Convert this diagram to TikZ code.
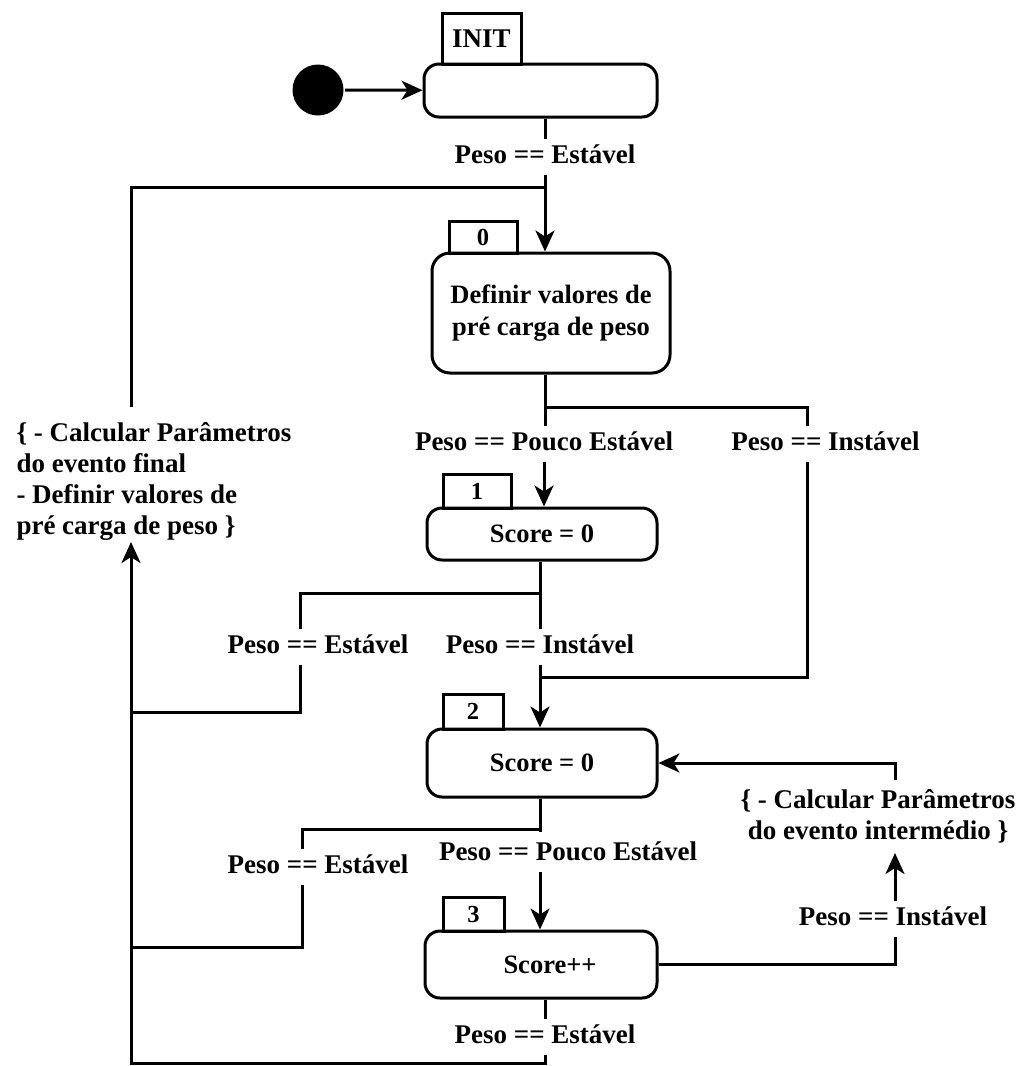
\documentclass[tikz,border=0pt]{standalone}
\usepackage{fontspec}
\setmainfont{Liberation Serif}
\usetikzlibrary{arrows.meta}
\begin{document}
\begin{tikzpicture}[x=1pt,y=-1pt,
  line width=3pt,
  arr/.style={-{Stealth[length=21pt,width=19pt,inset=6pt]}},
  lbl/.style={font=\bfseries\fontsize{27}{31}\selectfont, text height=19pt, text depth=6pt, inner xsep=1pt, inner ysep=4pt},
  statebox/.style={draw, rounded corners=15pt, font=\bfseries\fontsize{26.5}{32}\selectfont, inner sep=0pt, align=center},
  tagbox/.style={draw, inner sep=0pt, font=\bfseries\fontsize{24.5}{28}\selectfont},
  note/.style={font=\bfseries\fontsize{27}{31}\selectfont, inner sep=0pt}
]
\useasboundingbox (0,0) rectangle (1020,1066);

% helper coordinates
\coordinate (rx) at (807,0);
\coordinate (rx2) at (895,0);
\coordinate (lx1) at (300,0);
\coordinate (lx2) at (302,0);
\coordinate (jtop) at (545,187);
\coordinate (j1) at (545,407);
\coordinate (j2) at (542,593);
\coordinate (j3) at (542,677);
\coordinate (j4) at (540,829);
\coordinate (jL1) at (131,712);
\coordinate (jL2) at (131,947);
\coordinate (jB) at (131,1063);
\coordinate (finT) at (131,407);
\coordinate (finB) at (131,542);

% initial
\node[circle, fill=black, draw=none, minimum size=51pt, inner sep=0pt] (start) at (318,90) {};

% tags
\node[tagbox, minimum width=79pt, minimum height=51pt, font=\bfseries\fontsize{27}{30}\selectfont] (tagI) at (481.5,38.5) {INIT};
\node[tagbox, minimum width=68pt, minimum height=32pt] (tag0) at (483,237) {0};
\node[tagbox, minimum width=68pt, minimum height=34pt] (tag1) at (477,491) {1};
\node[tagbox, minimum width=60pt, minimum height=35pt] (tag2) at (473,711.5) {2};
\node[tagbox, minimum width=61pt, minimum height=34pt] (tag3) at (473.5,914) {3};

% states
\node[statebox, minimum width=233pt, minimum height=53pt] (init) at (540.5,90.5) {};
\node[statebox, minimum width=238pt, minimum height=120pt, rounded corners=18pt] (s0) at (551,313) {Definir valores de\\pré carga de peso};
\node[statebox, minimum width=230pt, minimum height=52pt] (s1) at (542,534) {Score = 0};
\node[statebox, minimum width=230pt, minimum height=68pt] (s2) at (542,763) {Score = 0};
\node[statebox, minimum width=232pt, minimum height=67pt] (s3) at (541,964.5) {\hspace*{18pt}Score++};

% labels
\node[lbl] (e1) at (545,156.5) {Peso == Estável};
\node[lbl] (e2) at (544,443.5) {Peso == Pouco Estável};
\node[lbl] (e3) at (825.5,443.5) {Peso == Instável};
\node[lbl] (e4) at (540,646.5) {Peso == Instável};
\node[lbl] (e5) at (318,646.5) {Peso == Estável};
\node[lbl] (e8) at (318,866.5) {Peso == Estável};
\node[lbl] (e9) at (568,853.5) {Peso == Pouco Estável};
\node[lbl] (e7) at (893,918.5) {Peso == Instável};
\node[lbl] (e10) at (545,1036.5) {Peso == Estável};
\node[note, align=center, anchor=south, inner ysep=8pt] (e6) at (878,853) {\{ - Calcular Parâmetros\\do evento intermédio \}};
\node[note, align=left, anchor=north west] (fin) at (15,421) {\{ - Calcular Parâmetros\\do evento final\\- Definir valores de\\pré carga de peso \}};

% connectors
\draw[arr] (start) -- (init);
\draw (init.south -| e1) -- (e1.north);
\draw[arr] (e1.south) -- (e1.south |- s0.north);
\draw (finT) |- (jtop);

\draw (s0.south -| j1) -- (j1) -- (j1 |- e2.north);
\draw[arr] (e2.south) -- (e2.south |- s1.north);
\draw (j1) -| (e3.north -| rx);
\draw (e3.south -| rx) |- (j3);

\draw (s1.south -| e4) -- (e4.north);
\draw[arr] (e4.south) -- (e4.south |- s2.north);
\draw (j2) -| (e5.north -| lx1);
\draw (e5.south -| lx1) |- (jL1);

\draw[arr] (e6.north -| rx2) |- (s2.east);
\draw[arr] (e7.north -| rx2) -- (e6.south -| rx2);
\draw (s3.east) -| (e7.south -| rx2);

\draw (s2.south -| j4) -- (j4) -- ++(0,3);
\draw (j4) -| (e8.north -| lx2);
\draw (e8.south -| lx2) |- (jL2);
\draw[arr] (e9.south -| j4) -- (j4 |- s3.north);

\draw (s3.south -| e10) -- (e10.north);
\draw[arr] (e10.south) |- (jB) -- (finB);
\end{tikzpicture}
\end{document}
